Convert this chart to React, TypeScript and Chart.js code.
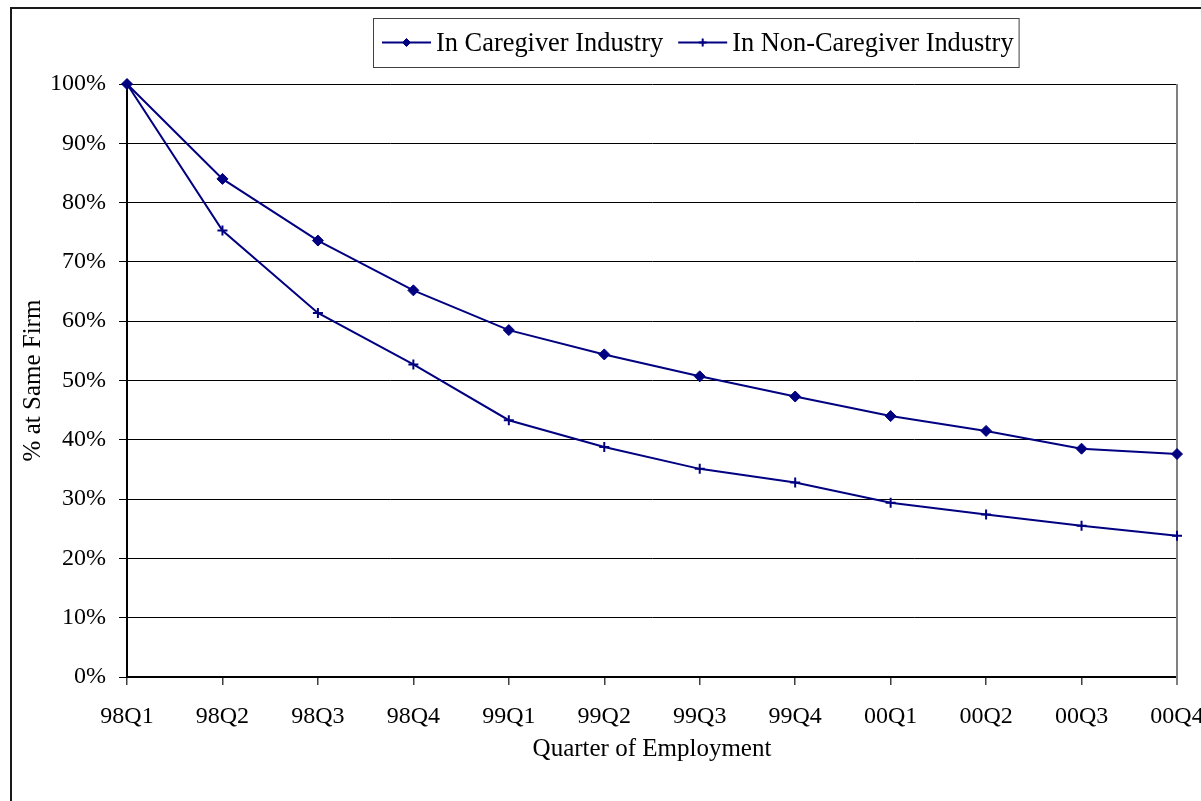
import React, { useEffect, useRef } from 'react';
import { Chart, registerables } from 'chart.js';
import { drawPoint } from 'chart.js/helpers';

Chart.register(...registerables);

const categories = ['98Q1', '98Q2', '98Q3', '98Q4', '99Q1', '99Q2', '99Q3', '99Q4', '00Q1', '00Q2', '00Q3', '00Q4'];
const caregiver = [100, 84.0, 73.6, 65.2, 58.5, 54.4, 50.7, 47.3, 44.0, 41.5, 38.5, 37.6];
const nonCaregiver = [100, 75.3, 61.4, 52.7, 43.3, 38.8, 35.1, 32.8, 29.4, 27.4, 25.5, 23.8];
const seriesLabels = ['In Caregiver Industry', 'In Non-Caregiver Industry'];
const yMin = 0;
const yMax = 100;
const yStep = 10;
const xTitle = 'Quarter of Employment';
const yTitle = '% at Same Firm';

const FONT = '"Liberation Serif", "Times New Roman", serif';
const NAVY = '#000080';

const framePlugin = {
  id: 'frame',
  beforeDraw(chart: any) {
    const ctx = chart.ctx;
    ctx.save();
    ctx.fillStyle = '#ffffff';
    ctx.fillRect(0, 0, chart.width, chart.height);
    ctx.fillStyle = '#1a1a1a';
    ctx.fillRect(10, 7, 2, chart.height - 7);
    ctx.fillRect(10, 7, chart.width - 10, 2);
    ctx.restore();
  },
  beforeDatasetsDraw(chart: any) {
    const ctx = chart.ctx;
    const a = chart.chartArea;
    ctx.save();
    ctx.strokeStyle = '#808080';
    ctx.lineWidth = 2;
    ctx.beginPath();
    ctx.moveTo(a.right, a.top);
    ctx.lineTo(a.right, a.bottom + 8);
    ctx.stroke();
    ctx.restore();
  },
};

const boxLegendPlugin = {
  id: 'boxLegend',
  afterDraw(chart: any, _args: any, opts: any) {
    const ctx = chart.ctx;
    const left = opts.left;
    const top = opts.top;
    const height = opts.height;
    const fontSize = opts.fontSize;
    ctx.save();
    ctx.font = `${fontSize}px ${FONT}`;
    const lineLen = 49;
    const gapAfterLine = 5;
    const itemGap = 15;
    const padL = 9;
    const padR = 5;
    const items = chart.data.datasets.map((ds: any) => ({
      ds,
      w: ctx.measureText(ds.label).width,
    }));
    let total = padL + padR;
    items.forEach((it: any, i: number) => {
      total += lineLen + gapAfterLine + it.w + (i < items.length - 1 ? itemGap : 0);
    });
    ctx.fillStyle = '#ffffff';
    ctx.fillRect(left, top, total, height);
    ctx.strokeStyle = '#404040';
    ctx.lineWidth = 1;
    ctx.strokeRect(left + 0.5, top + 0.5, total, height);
    const cy = top + height / 2;
    let x = left + padL;
    items.forEach((it: any) => {
      const ds = it.ds;
      ctx.strokeStyle = ds.borderColor;
      ctx.lineWidth = 2;
      ctx.beginPath();
      ctx.moveTo(x, cy);
      ctx.lineTo(x + lineLen, cy);
      ctx.stroke();
      ctx.fillStyle = ds.pointBackgroundColor;
      ctx.strokeStyle = ds.pointBorderColor;
      ctx.lineWidth = ds.pointBorderWidth;
      drawPoint(ctx, { pointStyle: ds.pointStyle, rotation: 0, radius: 4, borderWidth: ds.pointBorderWidth }, x + lineLen / 2, cy);
      x += lineLen + gapAfterLine;
      ctx.fillStyle = '#000000';
      ctx.textBaseline = 'middle';
      ctx.textAlign = 'left';
      ctx.fillText(ds.label, x, cy + 1.5);
      x += it.w + itemGap;
    });
    ctx.restore();
  },
};

export default function App() {
  const ref = useRef<HTMLCanvasElement | null>(null);

  useEffect(() => {
    if (!ref.current) return;
    const chart = new Chart(ref.current, {
      type: 'line',
      data: {
        labels: categories,
        datasets: [
          {
            label: seriesLabels[0],
            data: caregiver,
            borderColor: NAVY,
            backgroundColor: NAVY,
            borderWidth: 2,
            pointStyle: 'rectRot',
            pointRadius: 5.5,
            pointBackgroundColor: NAVY,
            pointBorderColor: NAVY,
            pointBorderWidth: 1,
            tension: 0,
            fill: false,
            clip: false as any,
          },
          {
            label: seriesLabels[1],
            data: nonCaregiver,
            borderColor: NAVY,
            backgroundColor: NAVY,
            borderWidth: 2,
            pointStyle: 'cross',
            pointRadius: 5,
            pointBackgroundColor: NAVY,
            pointBorderColor: NAVY,
            pointBorderWidth: 2,
            tension: 0,
            fill: false,
            clip: false as any,
          },
        ],
      },
      options: {
        animation: false,
        responsive: false,
        maintainAspectRatio: false,
        devicePixelRatio: 1,
        layout: { padding: { left: 0, top: 84, right: 24, bottom: 0 } },
        plugins: {
          legend: { display: false },
          tooltip: { enabled: false },
          boxLegend: { left: 373, top: 18, height: 49, fontSize: 26.4 },
        } as any,
        scales: {
          x: {
            type: 'category',
            offset: false,
            grid: {
              drawOnChartArea: false,
              drawTicks: true,
              tickLength: 8,
              color: '#404040',
              lineWidth: 1.5,
            },
            border: { display: true, color: '#000000', width: 2 },
            ticks: {
              color: '#000000',
              font: { family: FONT, size: 24 },
              padding: 17,
              maxRotation: 0,
              autoSkip: false,
            },
            title: {
              display: true,
              text: xTitle,
              color: '#000000',
              font: { family: FONT, size: 25 },
              padding: { top: 0, bottom: 37 },
            },
            afterFit(scale: any) {
              scale.height = 124;
              scale.paddingLeft = 0;
              scale.paddingRight = 0;
            },
          },
          y: {
            min: yMin,
            max: yMax,
            grid: {
              color: '#000000',
              lineWidth: 1,
              tickLength: 8,
              drawTicks: true,
            },
            border: { display: true, color: '#000000', width: 2 },
            ticks: {
              stepSize: yStep,
              color: '#000000',
              font: { family: FONT, size: 24 },
              padding: 13,
              callback: (v: any) => `${v}%`,
            },
            title: {
              display: true,
              text: yTitle,
              color: '#000000',
              font: { family: FONT, size: 25 },
              padding: { top: 18, bottom: 0 },
            },
            afterFit(scale: any) {
              scale.width = 127;
            },
          },
        },
      },
      plugins: [framePlugin, boxLegendPlugin],
    });
    return () => chart.destroy();
  }, []);

  return (
    <div style={{ position: 'fixed', left: 0, top: 0, width: 1201, height: 801, overflow: 'hidden' }}>
      <canvas ref={ref} width={1201} height={801} style={{ display: 'block', width: 1201, height: 801 }} />
    </div>
  );
}
